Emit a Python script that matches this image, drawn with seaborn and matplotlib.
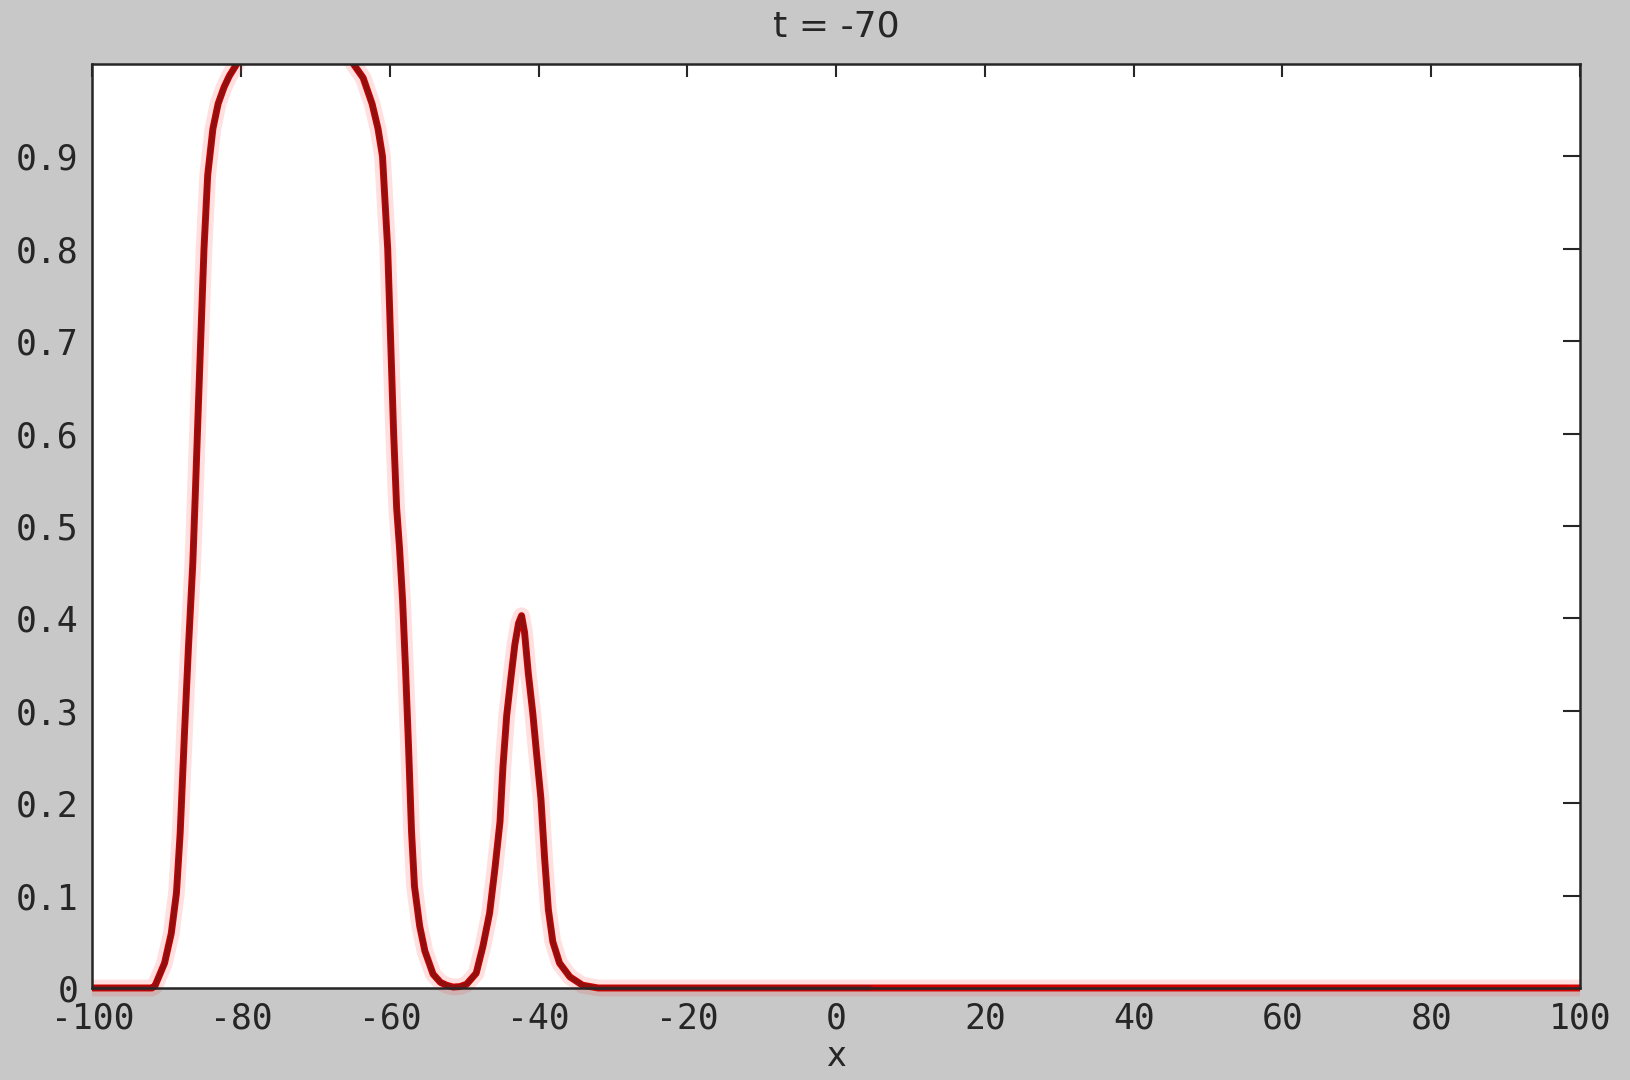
import matplotlib
matplotlib.use("Agg")
import matplotlib.pyplot as plt
from matplotlib.transforms import Bbox, TransformedBbox
import seaborn as sns
import pandas as pd

# Wave profile u(x) at t = -70
x_pts = [-100, -92, -91.6, -90.3, -89.4, -88.7, -88.2, -87.6, -87.1, -86.5,
         -86.1, -85.8, -85.4, -85.0, -84.5, -83.8, -83.1, -82.3, -81.6, -80.6,
         -79.5, -77, -72, -68, -66, -64.9, -63.6, -62.4, -61.6, -61.0,
         -60.3, -59.9, -59.5, -59.1, -58.7, -58.3, -57.9, -57.5, -57.1, -56.7,
         -56.0, -55.3, -54.2, -53.2, -52.4, -51.5, -50.6, -49.7, -48.4, -47.5,
         -46.6, -45.9, -45.2, -44.8, -44.3, -43.7, -43.2, -42.7, -42.3, -41.9,
         -41.4, -40.8, -40.3, -39.7, -39.2, -38.7, -38.1, -37.2, -35.8, -34.1,
         -32, 4.5, 100]
u_vals = [0, 0, 0.002, 0.027, 0.059, 0.103, 0.168, 0.28, 0.367, 0.46,
          0.55, 0.62, 0.71, 0.80, 0.88, 0.93, 0.957, 0.975, 0.987, 1.0,
          1.015, 1.03, 1.04, 1.03, 1.015, 1.0, 0.985, 0.957, 0.93, 0.9,
          0.8, 0.7, 0.6, 0.52, 0.475, 0.42, 0.345, 0.262, 0.17, 0.11,
          0.067, 0.04, 0.015, 0.006, 0.003, 0.001, 0.0015, 0.004, 0.016, 0.045,
          0.081, 0.128, 0.18, 0.24, 0.295, 0.338, 0.372, 0.395, 0.403, 0.385,
          0.341, 0.298, 0.255, 0.205, 0.14, 0.085, 0.05, 0.027, 0.012, 0.003,
          0, 0, 0]

# the second solution only covers the domain up to this x
x_end_second = 4.5

x_ticks = list(range(-100, 101, 20))
y_ticks = [0, 0.1, 0.2, 0.3, 0.4, 0.5, 0.6, 0.7, 0.8, 0.9]
y_tick_labels = ["0", "0.1", "0.2", "0.3", "0.4", "0.5", "0.6", "0.7", "0.8", "0.9"]
title_text = "t = -70"
x_label = "x"

df_full = pd.DataFrame({"x": x_pts, "u": u_vals})
df_part = df_full[df_full["x"] <= x_end_second]

sns.set_style("white")
plt.rcParams["font.family"] = ["DejaVu Sans"]

fig = plt.figure(figsize=(16.3, 10.8), dpi=100, facecolor="#c8c8c8")
ax = fig.add_axes([0.0567, 0.0852, 0.9126, 0.8555])
ax.set_facecolor("white")

clip = TransformedBbox(Bbox([[0, -0.03], [1, 1]]), ax.transAxes)

sns.lineplot(data=df_full, x="x", y="u", ax=ax, color="#ff3030", lw=12, alpha=0.15)
sns.lineplot(data=df_full, x="x", y="u", ax=ax, color="#d40000", lw=5)
sns.lineplot(data=df_part, x="x", y="u", ax=ax, color="#5a1c1c", lw=3.5, alpha=0.55)
for ln in ax.lines:
    ln.set_clip_box(clip)

ax.set_xlim(-100, 100)
ax.set_ylim(0, 1)
ax.set_xticks(x_ticks)
ax.set_xticklabels([str(v) for v in x_ticks])
ax.set_yticks(y_ticks)
ax.set_yticklabels(y_tick_labels)

for s in ax.spines.values():
    s.set_visible(True)
    s.set_color("#262626")
    s.set_linewidth(1.8)

ax.tick_params(axis="both", which="major", direction="in", top=True, right=True,
               colors="#262626", labelcolor="#262626", labelsize=25, width=1.5)
ax.tick_params(axis="x", length=9, pad=10)
ax.tick_params(axis="y", length=12, pad=10)
for lab in ax.get_xticklabels() + ax.get_yticklabels():
    lab.set_family("DejaVu Sans Mono")

ax.set_title(title_text, fontsize=26, color="#262626", pad=20)
ax.set_xlabel(x_label, fontsize=24, color="#262626", labelpad=3)
ax.set_ylabel("")

fig.savefig("out.png", dpi=100, facecolor=fig.get_facecolor())
